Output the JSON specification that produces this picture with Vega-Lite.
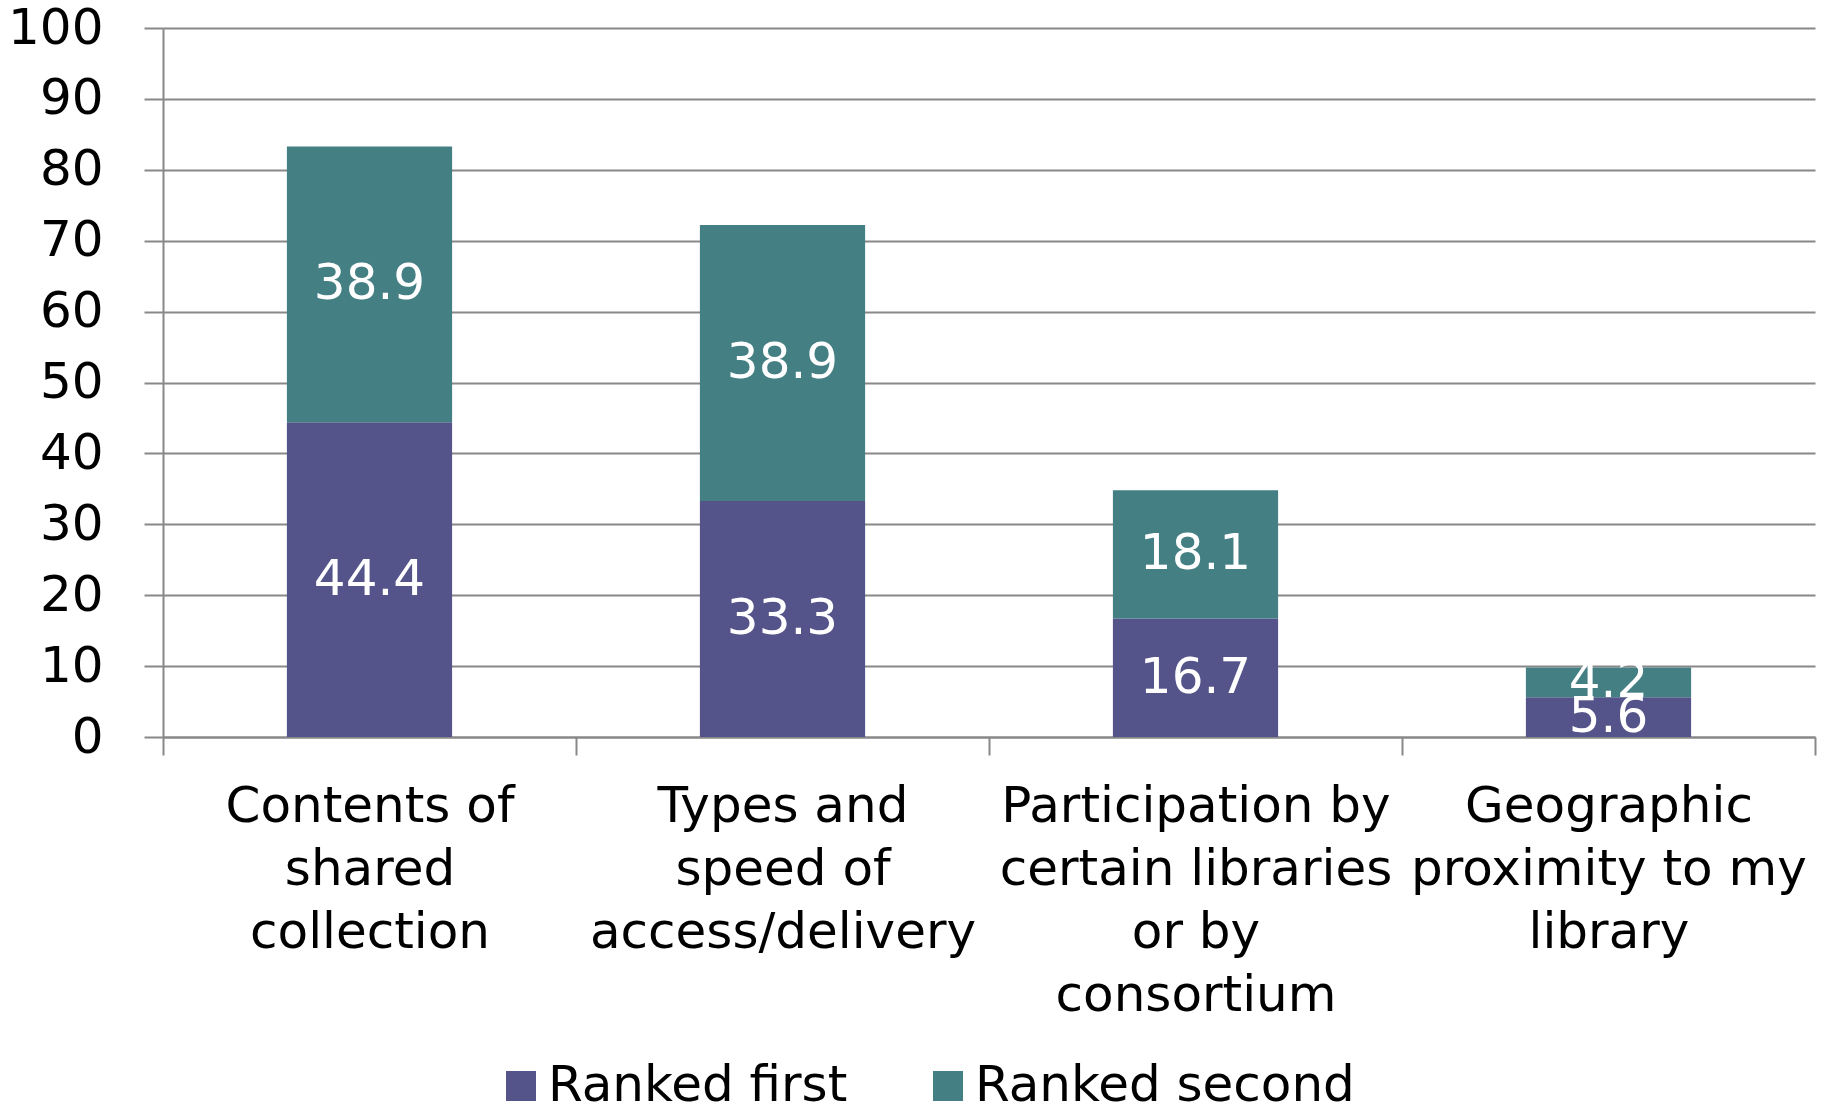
{
  "$schema": "https://vega.github.io/schema/vega-lite/v6.json",
  "width": 1652,
  "height": 709,
  "autosize": {"type": "none"},
  "padding": {"left": 163, "top": 28, "right": 15, "bottom": 372},
  "background": "white",
  "config": {
    "view": {"stroke": null},
    "font": "DejaVu Sans",
    "text": {"font": "DejaVu Sans"}
  },
  "data": {
    "values": [
      {"category": "Contents of shared collection", "series": "Ranked first", "value": 44.4},
      {"category": "Contents of shared collection", "series": "Ranked second", "value": 38.9},
      {"category": "Types and speed of access/delivery", "series": "Ranked first", "value": 33.3},
      {"category": "Types and speed of access/delivery", "series": "Ranked second", "value": 38.9},
      {"category": "Participation by certain libraries or by consortium", "series": "Ranked first", "value": 16.7},
      {"category": "Participation by certain libraries or by consortium", "series": "Ranked second", "value": 18.1},
      {"category": "Geographic proximity to my library", "series": "Ranked first", "value": 5.6},
      {"category": "Geographic proximity to my library", "series": "Ranked second", "value": 4.2}
    ]
  },
  "transform": [
    {"stack": "value", "groupby": ["category"], "sort": [{"field": "series", "order": "ascending"}], "as": ["v0", "v1"]},
    {"calculate": "(datum.v0 + datum.v1) / 2", "as": "mid"}
  ],
  "encoding": {
    "x": {
      "field": "category",
      "type": "nominal",
      "sort": ["Contents of shared collection", "Types and speed of access/delivery", "Participation by certain libraries or by consortium", "Geographic proximity to my library"],
      "scale": {"paddingInner": 0, "paddingOuter": 0},
      "axis": {
        "title": null,
        "grid": false,
        "labelAngle": 0,
        "labelFontSize": 50,
        "labelColor": "black",
        "labelLineHeight": 63,
        "labelBaseline": "top",
        "labelPadding": 26,
        "labelLimit": 0,
        "labelOverlap": false,
        "labelExpr": "datum.extra ? '' : datum.value == 'Contents of shared collection' ? ['Contents of', 'shared', 'collection'] : datum.value == 'Types and speed of access/delivery' ? ['Types and', 'speed of', 'access/delivery'] : datum.value == 'Participation by certain libraries or by consortium' ? ['Participation by', 'certain libraries', 'or by', 'consortium'] : ['Geographic', 'proximity to my', 'library']",
        "tickBand": "extent",
        "tickSize": 18,
        "tickWidth": 2,
        "tickColor": "#888888",
        "domainColor": "#888888",
        "domainWidth": 2
      }
    }
  },
  "layer": [
    {
      "mark": {"type": "bar", "width": {"band": 0.4}},
      "encoding": {
        "y": {
          "field": "v0",
          "type": "quantitative",
          "scale": {"domain": [0, 100], "nice": false},
          "axis": {
            "title": null,
            "values": [0, 10, 20, 30, 40, 50, 60, 70, 80, 90, 100],
            "labelFontSize": 50,
            "labelColor": "black",
            "labelPadding": 41,
            "tickSize": 19,
            "tickWidth": 2,
            "tickColor": "#888888",
            "domainColor": "#888888",
            "domainWidth": 2,
            "grid": true,
            "gridColor": "#888888",
            "gridWidth": 2
          }
        },
        "y2": {"field": "v1"},
        "color": {
          "field": "series",
          "type": "nominal",
          "scale": {"domain": ["Ranked first", "Ranked second"], "range": ["#54548A", "#447F84"]},
          "legend": {
            "title": null,
            "orient": "none",
            "legendX": 333,
            "legendY": 1033,
            "direction": "horizontal",
            "symbolType": "square",
            "symbolSize": 900,
            "symbolStrokeWidth": 0,
            "labelFontSize": 50,
            "labelColor": "black",
            "labelOffset": 2,
            "labelLimit": 0,
            "columnPadding": 75,
            "padding": 0
          }
        }
      }
    },
    {
      "mark": {"type": "text", "color": "white", "fontSize": 50},
      "encoding": {
        "y": {"field": "mid", "type": "quantitative"},
        "text": {"field": "value", "type": "quantitative", "format": ".1f"}
      }
    }
  ]
}
